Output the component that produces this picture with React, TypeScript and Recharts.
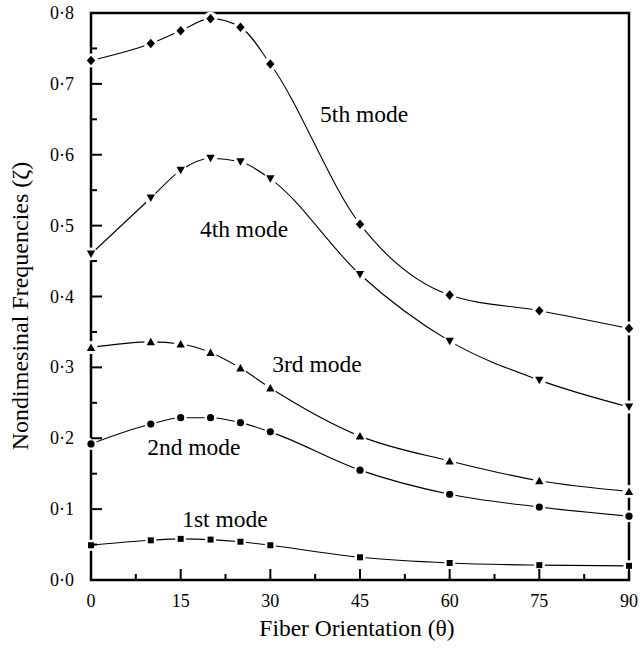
import { LineChart, Line, XAxis, YAxis, ReferenceArea, ReferenceDot } from 'recharts';

const angles = [0, 10, 15, 20, 25, 30, 45, 60, 75, 90];
const mode1 = [0.049, 0.056, 0.058, 0.057, 0.054, 0.049, 0.032, 0.024, 0.021, 0.02];
const mode2 = [0.192, 0.22, 0.229, 0.229, 0.222, 0.209, 0.155, 0.121, 0.103, 0.09];
const mode3 = [0.328, 0.336, 0.333, 0.321, 0.299, 0.271, 0.203, 0.168, 0.14, 0.125];
const mode4 = [0.46, 0.539, 0.578, 0.595, 0.59, 0.566, 0.431, 0.337, 0.282, 0.244];
const mode5 = [0.733, 0.757, 0.775, 0.792, 0.78, 0.728, 0.502, 0.402, 0.38, 0.355];

const xTicks = [0, 7.5, 15, 22.5, 30, 37.5, 45, 52.5, 60, 67.5, 75, 82.5, 90];
const xMajor = [0, 15, 30, 45, 60, 75, 90];
const yTicks = [0, 0.05, 0.1, 0.15, 0.2, 0.25, 0.3, 0.35, 0.4, 0.45, 0.5, 0.55, 0.6, 0.65, 0.7, 0.75, 0.8];
const yMajor = [0, 0.1, 0.2, 0.3, 0.4, 0.5, 0.6, 0.7, 0.8];

// mode labels: [text, angle, value]
const modeLabels: [string, number, number][] = [
  ['5th mode', 45.7, 0.646],
  ['4th mode', 25.6, 0.484],
  ['3rd mode', 37.8, 0.293],
  ['2nd mode', 17.2, 0.177],
  ['1st mode', 22.4, 0.075],
];

const data = angles.map((a, i) => ({
  angle: a,
  m1: mode1[i],
  m2: mode2[i],
  m3: mode3[i],
  m4: mode4[i],
  m5: mode5[i],
}));

const FONT = '"Liberation Serif", "Times New Roman", serif';

function isMajor(list: number[], v: number) {
  return list.some((m) => Math.abs(m - v) < 1e-6);
}

function XTick({ x, y, payload }: any) {
  const major = isMajor(xMajor, payload.value);
  return (
    <g>
      <line x1={x} x2={x} y1={y} y2={y - (major ? 11 : 6)} stroke="#000" strokeWidth={2} />
      {major && (
        <text x={x} y={y + 27} textAnchor="middle" fontFamily={FONT} fontSize={18} fill="#000">
          {payload.value}
        </text>
      )}
    </g>
  );
}

function YTick({ x, y, payload }: any) {
  const major = isMajor(yMajor, payload.value);
  return (
    <g>
      <line x1={x} x2={x + (major ? 11 : 6)} y1={y} y2={y} stroke="#000" strokeWidth={2} />
      {major && (
        <text x={x - 17} y={y + 6} textAnchor="end" fontFamily={FONT} fontSize={18} fill="#000">
          {payload.value.toFixed(1).replace('.', '·')}
        </text>
      )}
    </g>
  );
}

function makeDot(kind: string) {
  return (props: any) => {
    const { cx, cy, index } = props;
    if (cx == null || cy == null) return <g key={index} />;
    let halo: any;
    let mark: any;
    if (kind === 'square') {
      halo = <rect x={cx - 5.5} y={cy - 5.5} width={11} height={11} fill="#fff" />;
      mark = <rect x={cx - 3} y={cy - 3} width={6} height={6} fill="#000" />;
    } else if (kind === 'circle') {
      halo = <circle cx={cx} cy={cy} r={6} fill="#fff" />;
      mark = <circle cx={cx} cy={cy} r={3.6} fill="#000" />;
    } else if (kind === 'up') {
      halo = <circle cx={cx} cy={cy} r={6.5} fill="#fff" />;
      mark = <polygon points={`${cx - 4.2},${cy + 3.5} ${cx + 4.2},${cy + 3.5} ${cx},${cy - 4}`} fill="#000" />;
    } else if (kind === 'down') {
      halo = <circle cx={cx} cy={cy} r={6.5} fill="#fff" />;
      mark = <polygon points={`${cx - 4.2},${cy - 3.5} ${cx + 4.2},${cy - 3.5} ${cx},${cy + 4}`} fill="#000" />;
    } else {
      halo = <circle cx={cx} cy={cy} r={7} fill="#fff" />;
      mark = <polygon points={`${cx},${cy - 4.8} ${cx + 4.2},${cy} ${cx},${cy + 4.8} ${cx - 4.2},${cy}`} fill="#000" />;
    }
    return (
      <g key={index}>
        {halo}
        {mark}
      </g>
    );
  };
}

const series: [string, string][] = [
  ['m1', 'square'],
  ['m2', 'circle'],
  ['m3', 'up'],
  ['m4', 'down'],
  ['m5', 'diamond'],
];

export default function App() {
  return (
    <div style={{ position: 'absolute', left: 0, top: 0, width: 640, height: 650, background: '#fff' }}>
      <LineChart width={640} height={650} data={data} margin={{ top: 13, right: 11, bottom: 40, left: 31 }}>
        <XAxis
          dataKey="angle"
          type="number"
          domain={[0, 90]}
          ticks={xTicks}
          interval={0}
          tick={<XTick />}
          tickSize={0}
          tickMargin={0}
          tickLine={false}
          axisLine={false}
          height={30}
          label={{
            content: () => (
              <text x={357} y={636} textAnchor="middle" fontFamily={FONT} fontSize={23.5} fill="#000">
                Fiber Orientation (θ)
              </text>
            ),
          }}
        />
        <YAxis
          type="number"
          domain={[0, 0.8]}
          ticks={yTicks}
          interval={0}
          tick={<YTick />}
          tickSize={0}
          tickMargin={0}
          tickLine={false}
          axisLine={false}
          width={60}
          label={{
            content: () => (
              <text
                x={0}
                y={0}
                transform="translate(28, 306) rotate(-90)"
                textAnchor="middle"
                fontFamily={FONT}
                fontSize={24}
                fill="#000"
              >
                Nondimesinal Frequencies (ζ)
              </text>
            ),
          }}
        />
        <ReferenceArea x1={0} x2={90} y1={0} y2={0.8} fill="none" stroke="#000" strokeWidth={2.5} />
        {series.map(([key, kind]) => (
          <Line
            key={key}
            dataKey={key}
            type="monotone"
            stroke="#000"
            strokeWidth={1.1}
            dot={makeDot(kind)}
            activeDot={false}
            isAnimationActive={false}
          />
        ))}
        {modeLabels.map(([text, a, v]) => (
          <ReferenceDot
            key={text}
            x={a}
            y={v}
            r={0}
            shape={(p: any) => (
              <text x={p.cx} y={p.cy} textAnchor="middle" fontFamily={FONT} fontSize={23.5} fill="#000">
                {text}
              </text>
            )}
          />
        ))}
      </LineChart>
    </div>
  );
}
